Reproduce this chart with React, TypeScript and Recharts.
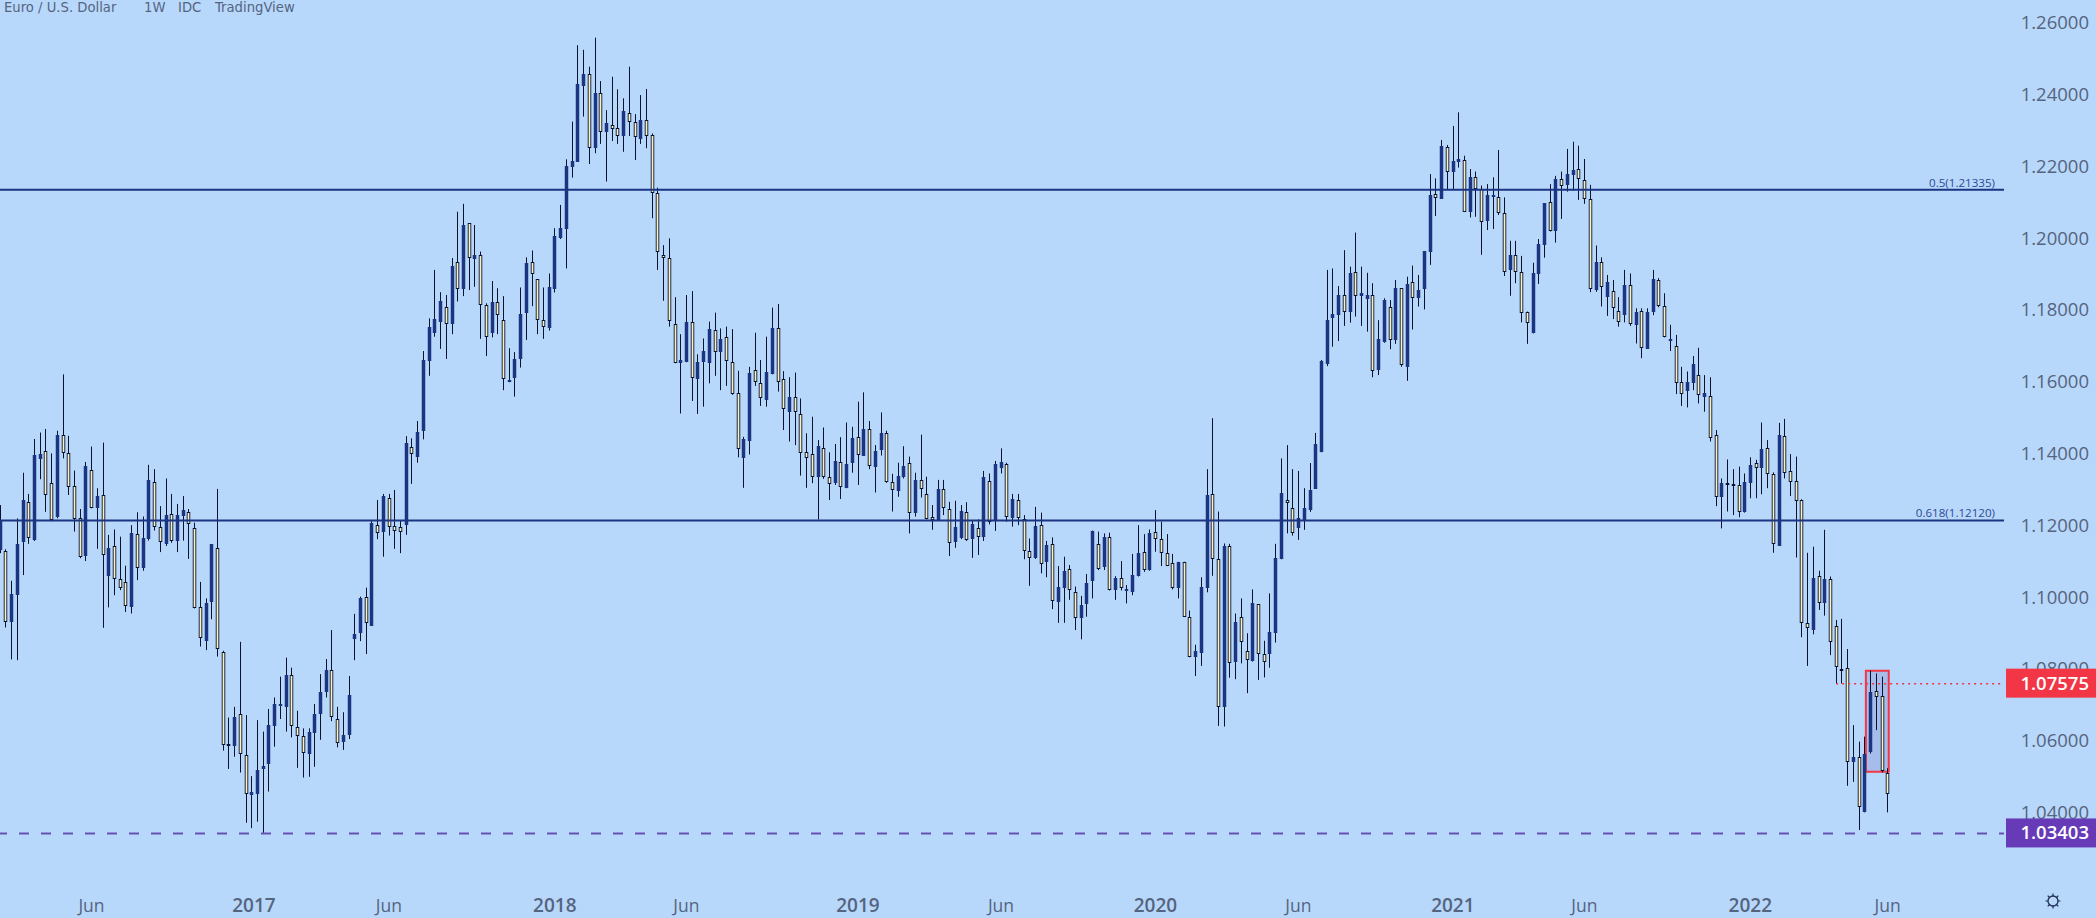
import React from "react";
import { Bar, ComposedChart, ReferenceArea, ReferenceLine, XAxis, YAxis } from "recharts";

// EUR/USD weekly candles
const opens = [
  1.1130, 1.1127, 1.0930, 1.1004, 1.1153, 1.1263, 1.1158, 1.1384, 1.1406, 1.1316,
  1.1223, 1.1450, 1.1399, 1.1308, 1.1218, 1.1113, 1.1353, 1.1248, 1.1282, 1.1056,
  1.1141, 1.1048, 1.1040, 1.0972, 1.1174, 1.1081, 1.1160, 1.1318, 1.1193, 1.1147,
  1.1229, 1.1156, 1.1225, 1.1237, 1.1190, 1.0972, 1.0877, 1.0984, 1.1134, 1.0847,
  1.0589, 1.0585, 1.0672, 1.0558, 1.0448, 1.0449, 1.0519, 1.0533, 1.0640, 1.0698,
  1.0692, 1.0783, 1.0638, 1.0613, 1.0561, 1.0621, 1.0672, 1.0735, 1.0796, 1.0658,
  1.0596, 1.0614, 1.0881, 1.0898, 1.0998, 1.0919, 1.1199, 1.1181, 1.1274, 1.1198,
  1.1193, 1.1199, 1.1418, 1.1390, 1.1462, 1.1657, 1.1733, 1.1766, 1.1807, 1.1758,
  1.1932, 1.1856, 1.2040, 1.1941, 1.1952, 1.1812, 1.1733, 1.1821, 1.1770, 1.1598,
  1.1608, 1.1661, 1.1789, 1.1931, 1.1884, 1.1770, 1.1749, 1.1858, 1.2000, 1.2025,
  1.2198, 1.2211, 1.2423, 1.2455, 1.2249, 1.2402, 1.2293, 1.2315, 1.2304, 1.2282,
  1.2346, 1.2321, 1.2276, 1.2328, 1.2286, 1.2123, 1.1951, 1.1942, 1.1758, 1.1652,
  1.1653, 1.1764, 1.1605, 1.1654, 1.1650, 1.1742, 1.1680, 1.1722, 1.1654, 1.1566,
  1.1385, 1.1434, 1.1631, 1.1594, 1.1549, 1.1619, 1.1747, 1.1605, 1.1515, 1.1557,
  1.1510, 1.1404, 1.1396, 1.1332, 1.1413, 1.1334, 1.1316, 1.1376, 1.1303, 1.1371,
  1.1444, 1.1393, 1.1466, 1.1360, 1.1408, 1.1455, 1.1320, 1.1295, 1.1332, 1.1371,
  1.1234, 1.1325, 1.1285, 1.1223, 1.1213, 1.1299, 1.1243, 1.1153, 1.1163, 1.1235,
  1.1161, 1.1190, 1.1167, 1.1322, 1.1213, 1.1359, 1.1369, 1.1220, 1.1269, 1.1215,
  1.1126, 1.1107, 1.1199, 1.1095, 1.1146, 1.0986, 1.1025, 1.1076, 1.1012, 1.0939,
  1.0979, 1.1044, 1.1146, 1.1082, 1.1165, 1.1017, 1.1051, 1.1020, 1.1014, 1.1056,
  1.1123, 1.1074, 1.1179, 1.1160, 1.1121, 1.1093, 1.1025, 1.1095, 1.0944, 1.0831,
  1.0844, 1.1025, 1.1285, 1.1104, 1.0692, 1.1141, 1.0819, 1.0942, 1.0848, 1.0822,
  1.0978, 1.0839, 1.0839, 1.0900, 1.1104, 1.1269, 1.1248, 1.1191, 1.1213, 1.1241,
  1.1300, 1.1402, 1.1648, 1.1777, 1.1783, 1.1840, 1.1794, 1.1903, 1.1838, 1.1829,
  1.1840, 1.1631, 1.1710, 1.1806, 1.1715, 1.1859, 1.1639, 1.1876, 1.1833, 1.1856,
  1.1961, 1.2121, 1.2108, 1.2251, 1.2182, 1.2211, 1.2216, 1.2072, 1.2170, 1.2136,
  1.2047, 1.2114, 1.2114, 1.2069, 1.1910, 1.1952, 1.1903, 1.1794, 1.1733, 1.1898,
  1.1979, 1.2099, 1.2019, 1.2163, 1.2147, 1.2175, 1.2192, 1.2160, 1.2107, 1.1854,
  1.1931, 1.1835, 1.1850, 1.1795, 1.1783, 1.1867, 1.1757, 1.1796, 1.1691, 1.1794,
  1.1882, 1.1809, 1.1716, 1.1698, 1.1597, 1.1574, 1.1596, 1.1617, 1.1557, 1.1559,
  1.1450, 1.1278, 1.1317, 1.1314, 1.1310, 1.1235, 1.1317, 1.1371, 1.1359, 1.1413,
  1.1341, 1.1142, 1.1447, 1.1349, 1.1321, 1.1269, 1.0926, 1.0907, 1.1056, 1.0981,
  1.1049, 1.0919, 1.0799, 1.0800, 1.0540, 1.0552, 1.0399, 1.0566, 1.0737, 1.0723,
  1.0510,
];

const closes = [
  1.1213, 1.0930, 1.1007, 1.1147, 1.1269, 1.1164, 1.1394, 1.1396, 1.1282, 1.1213,
  1.1450, 1.1399, 1.1304, 1.1216, 1.1109, 1.1364, 1.1248, 1.1280, 1.1115, 1.1134,
  1.1048, 1.1025, 1.0975, 1.1178, 1.1081, 1.1163, 1.1325, 1.1195, 1.1151, 1.1227,
  1.1155, 1.1226, 1.1241, 1.1201, 1.0967, 1.0884, 1.0981, 1.1146, 1.0853, 1.0588,
  1.0587, 1.0664, 1.0561, 1.0449, 1.0455, 1.0517, 1.0529, 1.0642, 1.0701, 1.0700,
  1.0783, 1.0640, 1.0612, 1.0563, 1.0622, 1.0672, 1.0733, 1.0796, 1.0664, 1.0591,
  1.0614, 1.0726, 1.0895, 1.0997, 1.0926, 1.1206, 1.1176, 1.1281, 1.1193, 1.1184,
  1.1181, 1.1427, 1.1398, 1.1459, 1.1659, 1.1752, 1.1773, 1.1823, 1.1758, 1.1922,
  1.1856, 1.2035, 1.1942, 1.1951, 1.1812, 1.1724, 1.1821, 1.1783, 1.1605, 1.1604,
  1.1661, 1.1787, 1.1928, 1.1898, 1.1770, 1.1750, 1.1861, 1.2004, 1.2026, 1.2199,
  1.2212, 1.2428, 1.2455, 1.2249, 1.2402, 1.2293, 1.2318, 1.2302, 1.2284, 1.2352,
  1.2321, 1.2281, 1.2328, 1.2284, 1.2123, 1.1959, 1.1942, 1.1769, 1.1650, 1.1658,
  1.1766, 1.1608, 1.1653, 1.1684, 1.1744, 1.1682, 1.1717, 1.1657, 1.1563, 1.1410,
  1.1439, 1.1622, 1.1599, 1.1552, 1.1625, 1.1747, 1.1599, 1.1522, 1.1557, 1.1513,
  1.1399, 1.1387, 1.1332, 1.1419, 1.1334, 1.1313, 1.1379, 1.1304, 1.1369, 1.1441,
  1.1394, 1.1466, 1.1365, 1.1406, 1.1455, 1.1318, 1.1297, 1.1336, 1.1364, 1.1232,
  1.1325, 1.1299, 1.1216, 1.1213, 1.1299, 1.1246, 1.1148, 1.1193, 1.1238, 1.1158,
  1.1201, 1.1167, 1.1332, 1.1207, 1.1369, 1.1374, 1.1223, 1.1272, 1.1220, 1.1128,
  1.1108, 1.1197, 1.1090, 1.1144, 1.0989, 1.1028, 1.1070, 1.1017, 1.0939, 1.0976,
  1.1037, 1.1182, 1.1077, 1.1165, 1.1017, 1.1051, 1.1023, 1.1021, 1.1059, 1.1121,
  1.1074, 1.1176, 1.1160, 1.1121, 1.1086, 1.1025, 1.1095, 1.0944, 1.0831, 1.0848,
  1.1026, 1.1283, 1.1104, 1.0693, 1.1141, 1.0814, 1.0928, 1.0873, 1.0823, 1.0981,
  1.0840, 1.0819, 1.0902, 1.1107, 1.1288, 1.1260, 1.1176, 1.1219, 1.1247, 1.1297,
  1.1425, 1.1656, 1.1770, 1.1786, 1.1840, 1.1794, 1.1900, 1.1838, 1.1845, 1.1840,
  1.1629, 1.1718, 1.1826, 1.1715, 1.1859, 1.1645, 1.1871, 1.1833, 1.1854, 1.1962,
  1.2119, 1.2111, 1.2255, 1.2182, 1.2212, 1.2218, 1.2072, 1.2168, 1.2136, 1.2043,
  1.2118, 1.2119, 1.2069, 1.1905, 1.1952, 1.1903, 1.1791, 1.1761, 1.1900, 1.1982,
  1.2095, 1.2017, 1.2163, 1.2144, 1.2176, 1.2187, 1.2162, 1.2108, 1.1856, 1.1931,
  1.1861, 1.1875, 1.1805, 1.1765, 1.1867, 1.1758, 1.1792, 1.1693, 1.1794, 1.1884,
  1.1809, 1.1724, 1.1718, 1.1594, 1.1564, 1.1599, 1.1647, 1.1562, 1.1566, 1.1443,
  1.1278, 1.1316, 1.1312, 1.1313, 1.1237, 1.1318, 1.1366, 1.1358, 1.1410, 1.1341,
  1.1146, 1.1450, 1.1345, 1.1320, 1.1266, 1.0926, 1.0912, 1.1051, 1.0981, 1.1049,
  1.0874, 1.0805, 1.0794, 1.0540, 1.0552, 1.0413, 1.0562, 1.0733, 1.0719, 1.0514,
  1.0449,
];

const highs = [
  1.1255, 1.1132, 1.1044, 1.1218, 1.1345, 1.1286, 1.1439, 1.1457, 1.1467, 1.1399,
  1.1462, 1.1619, 1.1448, 1.1351, 1.1244, 1.1375, 1.1418, 1.1302, 1.1429, 1.1172,
  1.1187, 1.1167, 1.1086, 1.1199, 1.1235, 1.1223, 1.1367, 1.1355, 1.1252, 1.1329,
  1.1286, 1.1258, 1.1280, 1.1244, 1.1206, 1.1041, 1.0995, 1.1146, 1.1300, 1.0849,
  1.0663, 1.0693, 1.0874, 1.0670, 1.0500, 1.0656, 1.0624, 1.0687, 1.0719, 1.0777,
  1.0830, 1.0802, 1.0682, 1.0633, 1.0633, 1.0701, 1.0784, 1.0826, 1.0907, 1.0693,
  1.0678, 1.0779, 1.0952, 1.1000, 1.1025, 1.1213, 1.1269, 1.1286, 1.1286, 1.1297,
  1.1213, 1.1447, 1.1441, 1.1489, 1.1684, 1.1775, 1.1910, 1.1848, 1.1840, 1.1943,
  1.2072, 1.2094, 1.2040, 1.2035, 1.1961, 1.1817, 1.1879, 1.1859, 1.1837, 1.1692,
  1.1681, 1.1861, 1.1945, 1.1964, 1.1884, 1.1861, 1.1900, 1.2026, 1.2091, 1.2218,
  1.2323, 1.2536, 1.2523, 1.2476, 1.2557, 1.2436, 1.2355, 1.2448, 1.2413, 1.2388,
  1.2476, 1.2344, 1.2397, 1.2414, 1.2290, 1.2139, 1.1979, 1.1998, 1.1834, 1.1731,
  1.1840, 1.1851, 1.1675, 1.1719, 1.1766, 1.1791, 1.1747, 1.1752, 1.1745, 1.1629,
  1.1445, 1.1640, 1.1735, 1.1659, 1.1724, 1.1805, 1.1815, 1.1628, 1.1611, 1.1624,
  1.1552, 1.1455, 1.1501, 1.1436, 1.1471, 1.1402, 1.1425, 1.1444, 1.1485, 1.1473,
  1.1543, 1.1569, 1.1489, 1.1422, 1.1513, 1.1462, 1.1342, 1.1373, 1.1419, 1.1390,
  1.1345, 1.1451, 1.1334, 1.1255, 1.1325, 1.1325, 1.1264, 1.1267, 1.1255, 1.1263,
  1.1213, 1.1215, 1.1350, 1.1343, 1.1378, 1.1413, 1.1373, 1.1286, 1.1286, 1.1227,
  1.1162, 1.1250, 1.1234, 1.1155, 1.1165, 1.1085, 1.1111, 1.1088, 1.1028, 1.1002,
  1.1063, 1.1184, 1.1181, 1.1176, 1.1178, 1.1057, 1.1099, 1.1032, 1.1119, 1.1199,
  1.1174, 1.1187, 1.1241, 1.1209, 1.1174, 1.1119, 1.1097, 1.1097, 1.0961, 1.0866,
  1.1054, 1.1355, 1.1497, 1.1237, 1.1148, 1.1147, 1.0953, 1.0995, 1.0898, 1.1020,
  1.0978, 1.0877, 1.1009, 1.1147, 1.1385, 1.1422, 1.1355, 1.1350, 1.1302, 1.1372,
  1.1456, 1.1659, 1.1910, 1.1914, 1.1865, 1.1965, 1.1919, 1.2014, 1.1919, 1.1902,
  1.1873, 1.1770, 1.1831, 1.1826, 1.1882, 1.1859, 1.1891, 1.1922, 1.1896, 1.1962,
  1.2177, 1.2165, 1.2272, 1.2258, 1.2311, 1.2349, 1.2228, 1.2191, 1.2184, 1.2145,
  1.2149, 1.2168, 1.2244, 1.2112, 1.1991, 1.1991, 1.1949, 1.1794, 1.1930, 1.1996,
  1.2095, 1.2149, 1.2172, 1.2184, 1.2247, 1.2267, 1.2256, 1.2219, 1.2147, 1.1978,
  1.1945, 1.1896, 1.1882, 1.1834, 1.1910, 1.1900, 1.1803, 1.1803, 1.1803, 1.1910,
  1.1887, 1.1845, 1.1757, 1.1729, 1.1640, 1.1627, 1.1670, 1.1693, 1.1617, 1.1611,
  1.1464, 1.1329, 1.1382, 1.1355, 1.1362, 1.1343, 1.1388, 1.1381, 1.1485, 1.1436,
  1.1346, 1.1484, 1.1495, 1.1397, 1.1390, 1.1271, 1.1122, 1.1139, 1.1072, 1.1186,
  1.1056, 1.0935, 1.0938, 1.0854, 1.0642, 1.0596, 1.0610, 1.0794, 1.0786, 1.0777,
  1.0522,
];

const lows = [
  1.1121, 1.0914, 1.0825, 1.0823, 1.1060, 1.1147, 1.1155, 1.1327, 1.1236, 1.1210,
  1.1218, 1.1385, 1.1283, 1.1181, 1.1107, 1.1099, 1.1246, 1.1133, 1.0913, 1.0970,
  1.1004, 1.1018, 1.0957, 1.0953, 1.1046, 1.1072, 1.1156, 1.1184, 1.1124, 1.1141,
  1.1150, 1.1124, 1.1156, 1.1105, 1.0967, 1.0861, 1.0851, 1.0937, 1.0833, 1.0571,
  1.0520, 1.0554, 1.0510, 1.0370, 1.0355, 1.0373, 1.0342, 1.0457, 1.0582, 1.0659,
  1.0624, 1.0608, 1.0523, 1.0496, 1.0498, 1.0526, 1.0601, 1.0719, 1.0653, 1.0580,
  1.0573, 1.0603, 1.0823, 1.0876, 1.0840, 1.0919, 1.1160, 1.1111, 1.1170, 1.1133,
  1.1121, 1.1172, 1.1314, 1.1373, 1.1438, 1.1615, 1.1724, 1.1690, 1.1662, 1.1731,
  1.1822, 1.1837, 1.1854, 1.1863, 1.1718, 1.1670, 1.1722, 1.1731, 1.1575, 1.1597,
  1.1557, 1.1638, 1.1715, 1.1809, 1.1731, 1.1718, 1.1741, 1.1847, 1.1996, 1.1914,
  1.2167, 1.2211, 1.2337, 1.2205, 1.2235, 1.2261, 1.2156, 1.2269, 1.2261, 1.2239,
  1.2283, 1.2216, 1.2261, 1.2249, 1.2054, 1.1910, 1.1824, 1.1752, 1.1650, 1.1510,
  1.1653, 1.1545, 1.1509, 1.1529, 1.1594, 1.1615, 1.1575, 1.1587, 1.1562, 1.1388,
  1.1303, 1.1396, 1.1587, 1.1531, 1.1529, 1.1619, 1.1571, 1.1464, 1.1432, 1.1422,
  1.1337, 1.1303, 1.1316, 1.1215, 1.1328, 1.1269, 1.1311, 1.1272, 1.1302, 1.1345,
  1.1311, 1.1393, 1.1355, 1.1290, 1.1393, 1.1317, 1.1237, 1.1278, 1.1329, 1.1176,
  1.1223, 1.1276, 1.1215, 1.1186, 1.1212, 1.1227, 1.1113, 1.1136, 1.1160, 1.1155,
  1.1108, 1.1116, 1.1155, 1.1201, 1.1183, 1.1343, 1.1209, 1.1195, 1.1199, 1.1104,
  1.1030, 1.1105, 1.1065, 1.1054, 1.0965, 1.0927, 1.0927, 1.0991, 1.0907, 1.0881,
  1.0944, 1.0995, 1.1074, 1.1074, 1.1017, 1.0991, 1.1017, 1.0981, 1.1004, 1.1056,
  1.1069, 1.1072, 1.1125, 1.1085, 1.1085, 1.1020, 1.0995, 1.0944, 1.0831, 1.0779,
  1.0807, 1.1012, 1.1058, 1.0640, 1.0638, 1.0774, 1.0770, 1.0814, 1.0731, 1.0819,
  1.0768, 1.0775, 1.0802, 1.0872, 1.1104, 1.1176, 1.1170, 1.1158, 1.1186, 1.1236,
  1.1300, 1.1402, 1.1642, 1.1696, 1.1712, 1.1754, 1.1763, 1.1780, 1.1754, 1.1738,
  1.1611, 1.1617, 1.1707, 1.1689, 1.1704, 1.1640, 1.1601, 1.1744, 1.1808, 1.1800,
  1.1924, 1.2060, 1.2108, 1.2133, 1.2133, 1.2195, 1.2072, 1.2056, 1.2058, 1.1952,
  1.2021, 1.2024, 1.2063, 1.1893, 1.1838, 1.1873, 1.1764, 1.1704, 1.1733, 1.1871,
  1.1944, 1.2017, 1.1986, 1.2052, 1.2128, 1.2131, 1.2105, 1.2094, 1.1848, 1.1849,
  1.1808, 1.1782, 1.1773, 1.1752, 1.1764, 1.1754, 1.1705, 1.1664, 1.1691, 1.1784,
  1.1806, 1.1722, 1.1684, 1.1564, 1.1531, 1.1527, 1.1575, 1.1538, 1.1515, 1.1432,
  1.1252, 1.1190, 1.1237, 1.1227, 1.1221, 1.1234, 1.1274, 1.1274, 1.1285, 1.1302,
  1.1122, 1.1142, 1.1329, 1.1280, 1.1109, 1.0887, 1.0807, 1.0895, 1.0963, 1.0947,
  1.0837, 1.0758, 1.0758, 1.0473, 1.0484, 1.0350, 1.0399, 1.0563, 1.0628, 1.0510,
  1.0399,
];

const timeTickIndex = [16, 44.4, 68, 97, 120, 150, 175, 202, 227, 254, 277, 306, 330];
const timeTickLabel = ["Jun", "2017", "Jun", "2018", "Jun", "2019", "Jun", "2020", "Jun", "2021", "Jun", "2022", "Jun"];
const priceTicks = [1.26, 1.24, 1.22, 1.2, 1.18, 1.16, 1.14, 1.12, 1.1, 1.08, 1.06, 1.04];

const FIB_50 = 1.21335;
const FIB_618 = 1.1212;
const LAST_PRICE = 1.07575;
const LOW_PRICE = 1.03403;
const BOX_TOP = 1.07936;
const BOX_BOTTOM = 1.05123;
const BOX_FROM = 326.2;
const BOX_TO = 330.2;

const rows = opens.map((open, i) => ({
  i,
  open,
  close: closes[i],
  high: highs[i],
  low: lows[i],
  range: [lows[i], highs[i]],
}));

const BG = "#b8d8fb";
const NAVY = "#1b3582";
const CREAM = "#f8f2c4";
const WICK = "#0b1230";
const TEXT = "#55647f";
const RED = "#f23645";
const PURPLE = "#673ab7";
const FONT = "'Open Sans', sans-serif";

function Candle(props: any) {
  const { x, y, width, height, payload } = props;
  const cx = Math.round(x + width / 2);
  const { open, close, high, low } = payload;
  const at = (v: number) => y + (height * (high - v)) / (high - low || 1);
  const top = Math.round(at(Math.max(open, close)));
  const bottom = Math.round(at(Math.min(open, close)));
  const bodyH = Math.max(bottom - top, 2);
  const up = close >= open;
  return (
    <g>
      <rect x={cx} y={y} width={1} height={height} fill={WICK} />
      <rect x={cx - 1.25} y={top} width={3.5} height={bodyH} fill={up ? NAVY : WICK} />
      {!up && bodyH > 2 && <rect x={cx - 0.35} y={top + 1} width={1.7} height={bodyH - 2} fill={CREAM} />}
    </g>
  );
}

function PriceTick({ x, y, payload }: any) {
  const v = payload.value;
  const boxed = v === LAST_PRICE ? RED : v === LOW_PRICE ? PURPLE : null;
  const label = v.toFixed(5);
  if (boxed) {
    return (
      <g>
        <rect x={x} y={y - 15} width={92} height={29} fill={boxed} />
        <text x={x + 83} y={y + 6} textAnchor="end" fontFamily={FONT} fontSize={18.5} fontWeight={600} fill="#fff">
          {label}
        </text>
      </g>
    );
  }
  return (
    <text x={x + 83} y={y + 7} textAnchor="end" fontFamily={FONT} fontSize={18.5} fill={TEXT}>
      {label}
    </text>
  );
}

function TimeTick({ x, y, payload }: any) {
  const label = timeTickLabel[timeTickIndex.indexOf(payload.value)];
  const isYear = label !== "Jun";
  return (
    <text x={x} y={y + 24} textAnchor="middle" fontFamily={FONT} fontSize={isYear ? 19 : 17.5} fontWeight={isYear ? 600 : 400} fill={TEXT}>
      {label}
    </text>
  );
}

const fibLabel = (text: string) => ({ viewBox }: any) => (
  <text x={viewBox.x + viewBox.width - 9} y={viewBox.y - 3} textAnchor="end" fontFamily={FONT} fontSize={11.6} fill="#2c4a94">
    {text}
  </text>
);

const titleParts = [
  { text: "Euro / U.S. Dollar", left: 4 },
  { text: "1W", left: 144 },
  { text: "IDC", left: 178 },
  { text: "TradingView", left: 215 },
];

export default function App() {
  return (
    <div style={{ position: "absolute", left: 0, top: 0, width: 2096, height: 918, background: BG, overflow: "hidden" }}>
      <ComposedChart width={2096} height={918} data={rows} margin={{ top: 0, right: 0, left: 0, bottom: 0 }}>
        <XAxis
          type="number"
          dataKey="i"
          domain={[0, 350.35]}
          allowDataOverflow
          ticks={timeTickIndex}
          interval={0}
          height={38}
          axisLine={false}
          tickLine={false}
          tick={<TimeTick />}
        />
        <YAxis
          type="number"
          orientation="right"
          domain={[1.02106, 1.26618]}
          allowDataOverflow
          ticks={[...priceTicks, LAST_PRICE, LOW_PRICE]}
          interval={0}
          width={92}
          axisLine={false}
          tickLine={false}
          tickSize={0}
          tick={<PriceTick />}
        />
        <ReferenceArea
          x1={BOX_FROM}
          x2={BOX_TO}
          y1={BOX_BOTTOM}
          y2={BOX_TOP}
          fill="#a6bdec"
          fillOpacity={1}
          stroke={RED}
          strokeWidth={2}
        />
        <ReferenceLine y={FIB_50} stroke={NAVY} strokeWidth={2} label={fibLabel("0.5(1.21335)")} />
        <ReferenceLine y={FIB_618} stroke={NAVY} strokeWidth={2} label={fibLabel("0.618(1.12120)")} />
        <ReferenceLine y={LOW_PRICE} stroke="#6650b4" strokeWidth={2} strokeDasharray="10 12" strokeDashoffset={5} />
        <ReferenceLine
          segment={[{ x: 321, y: LAST_PRICE }, { x: 350.35, y: LAST_PRICE }]}
          stroke={RED}
          strokeWidth={1.5}
          strokeDasharray="2 4"
        />
        <Bar dataKey="range" barSize={3} shape={<Candle />} isAnimationActive={false} />
      </ComposedChart>
      {titleParts.map((p) => (
        <span
          key={p.text}
          style={{ position: "absolute", left: p.left, top: 0, fontFamily: "'DejaVu Sans', sans-serif", fontSize: 13.2, color: TEXT, whiteSpace: "nowrap" }}
        >
          {p.text}
        </span>
      ))}
      <svg style={{ position: "absolute", left: 2043, top: 891 }} width={20} height={20} viewBox="0 0 20 20">
        <circle cx={10} cy={10} r={5} fill="none" stroke="#1f2d50" strokeWidth={1.3} />
        <path d="M10 2.5v2.5M10 15v2.5M2.5 10h2.5M15 10h2.5M4.7 4.7l1.8 1.8M13.5 13.5l1.8 1.8M4.7 15.3l1.8-1.8M13.5 6.5l1.8-1.8" stroke="#1f2d50" strokeWidth={1.2} />
      </svg>
    </div>
  );
}
